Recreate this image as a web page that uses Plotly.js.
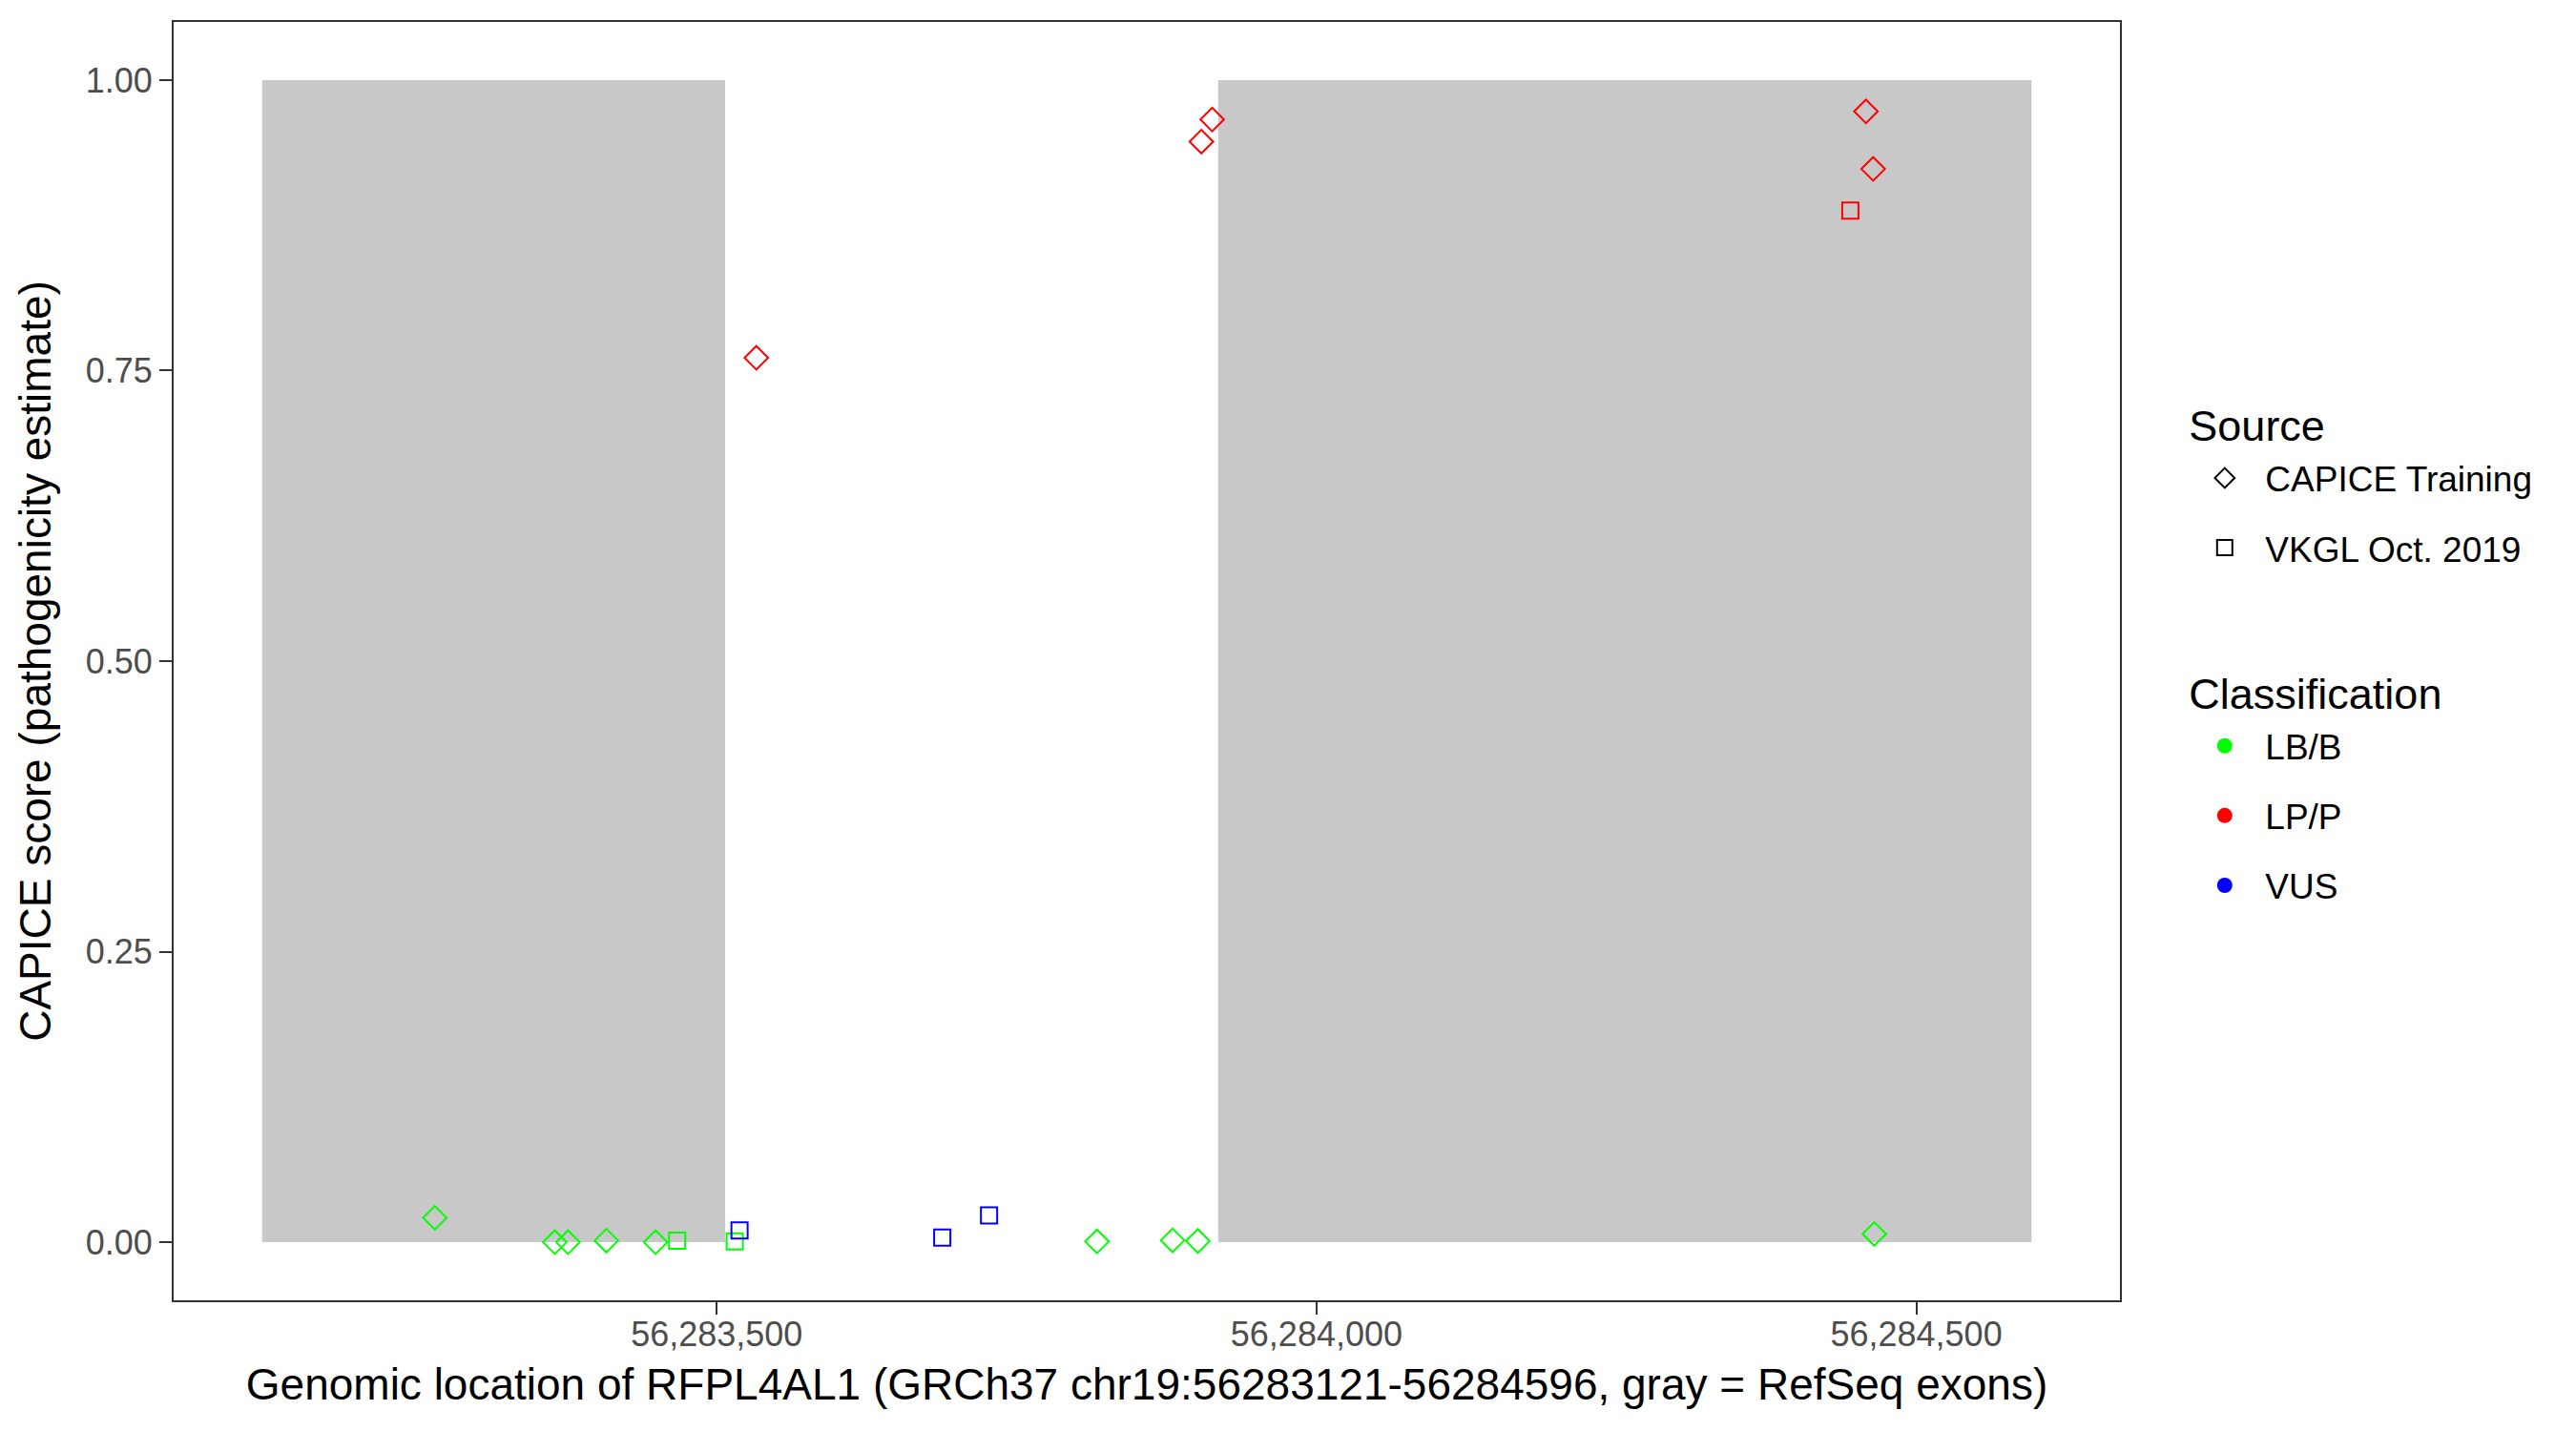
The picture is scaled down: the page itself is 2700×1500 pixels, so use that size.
<!DOCTYPE html>
<html>
<head>
<meta charset="utf-8">
<script src="https://cdn.plot.ly/plotly-3.0.1.min.js"></script>
<style>html,body{margin:0;padding:0;background:#fff;}#chart{width:2700px;height:1500px;}</style>
</head>
<body>
<div id="chart"></div>
<script>
// Exons (RefSeq) on GRCh37 chr19
const exonStart = [56283121, 56283918];
const exonEnd   = [56283507, 56284596];

// LB/B - CAPICE Training
const lbbCapiceX = [56283265, 56283365, 56283376, 56283408, 56283449, 56283817, 56283880, 56283901, 56284465];
const lbbCapiceY = [0.021, 0.000, 0.000, 0.0014, 0.000, 0.0006, 0.0016, 0.001, 0.0071];
// LB/B - VKGL Oct. 2019
const lbbVkglX = [56283467, 56283515];
const lbbVkglY = [0.0014, 0.0006];
// VUS - VKGL Oct. 2019
const vusVkglX = [56283519, 56283688, 56283727];
const vusVkglY = [0.0101, 0.0039, 0.023];
// LP/P - CAPICE Training
const lppCapiceX = [56283533, 56283904, 56283913, 56284458, 56284464];
const lppCapiceY = [0.761, 0.947, 0.966, 0.973, 0.9235];
// LP/P - VKGL Oct. 2019
const lppVkglX = [56284445];
const lppVkglY = [0.8876];

const xTickVals = [56283500, 56284000, 56284500];
const xTickText = ["56,283,500", "56,284,000", "56,284,500"];
const yTickVals = [0, 0.25, 0.5, 0.75, 1.0];
const yTickText = ["0.00", "0.25", "0.50", "0.75", "1.00"];

const sourceNames = ["CAPICE Training", "VKGL Oct. 2019"];
const classNames = ["LB/B", "LP/P", "VUS"];

const geneStart = 56283121, geneEnd = 56284596;

const GREEN = "#00FF00", RED = "#FF0000", BLUE = "#0000FF";
const FONT = "Liberation Sans, Arial, sans-serif";
const DIA = 19, SQ = 17, LW = 2;
const GT = {family: FONT, size: 45, color: "#000"};

function pts(x, y, color, symbol, size) {
  return {
    type: "scatter", mode: "markers", x: x, y: y, showlegend: false, hoverinfo: "x+y",
    marker: {symbol: symbol, size: size, color: color, line: {color: color, width: LW}}
  };
}

const traces = [
  pts(lbbCapiceX, lbbCapiceY, GREEN, "diamond-open", DIA),
  pts(lbbVkglX, lbbVkglY, GREEN, "square-open", SQ),
  pts(vusVkglX, vusVkglY, BLUE, "square-open", SQ),
  pts(lppCapiceX, lppCapiceY, RED, "diamond-open", DIA),
  pts(lppVkglX, lppVkglY, RED, "square-open", SQ),
  // legend entries
  {type: "scatter", mode: "markers", x: [null], y: [null], name: sourceNames[0],
   legendgroup: "s1", legendgrouptitle: {text: "Source", font: GT},
   marker: {symbol: "diamond-open", size: 19, color: "#000", line: {color: "#000", width: LW}}},
  {type: "scatter", mode: "markers", x: [null], y: [null], name: sourceNames[1],
   legendgroup: "s2",
   marker: {symbol: "square-open", size: 18, color: "#000", line: {color: "#000", width: LW}}},
  {type: "scatter", mode: "none", x: [null], y: [null], name: " ", legendgroup: "sp"},
  {type: "scatter", mode: "markers", x: [null], y: [null], name: classNames[0],
   legendgroup: "c1", legendgrouptitle: {text: "Classification", font: GT},
   marker: {symbol: "circle", size: 19, color: GREEN}},
  {type: "scatter", mode: "markers", x: [null], y: [null], name: classNames[1],
   legendgroup: "c2", marker: {symbol: "circle", size: 19, color: RED}},
  {type: "scatter", mode: "markers", x: [null], y: [null], name: classNames[2],
   legendgroup: "c3", marker: {symbol: "circle", size: 19, color: BLUE}}
];

const pad = (geneEnd - geneStart) * 0.05;
const shapes = exonStart.map((s, i) => ({
  type: "rect", xref: "x", yref: "y", x0: s, x1: exonEnd[i], y0: 0, y1: 1,
  fillcolor: "#C8C8C8", line: {width: 0}, layer: "below"
}));

const layout = {
  width: 2700, height: 1500,
  paper_bgcolor: "#fff", plot_bgcolor: "#fff",
  margin: {l: 182, r: 478, t: 23, b: 137},
  font: {family: FONT, color: "#000"},
  shapes: shapes,
  xaxis: {
    range: [geneStart - pad, geneEnd + pad],
    tickvals: xTickVals, ticktext: xTickText,
    tickfont: {family: FONT, size: 36, color: "#4D4D4D"},
    ticks: "outside", ticklen: 13, tickwidth: 2, tickcolor: "#333333",
    ticklabelstandoff: -10,
    showgrid: false, zeroline: false,
    showline: true, mirror: true, linecolor: "#333333", linewidth: 2,
    automargin: false,
    title: {text: "Genomic location of RFPL4AL1 (GRCh37 chr19:56283121-56284596, gray = RefSeq exons)",
            font: {family: FONT, size: 46, color: "#000"}, standoff: 17}
  },
  yaxis: {
    range: [-0.05, 1.05],
    tickvals: yTickVals, ticktext: yTickText,
    tickfont: {family: FONT, size: 36, color: "#4D4D4D"},
    ticks: "outside", ticklen: 13, tickwidth: 2, tickcolor: "#333333",
    showgrid: false, zeroline: false,
    showline: true, mirror: true, linecolor: "#333333", linewidth: 2,
    automargin: false,
    title: {text: "CAPICE score (pathogenicity estimate)", font: {family: FONT, size: 46, color: "#000"}, standoff: 22}
  },
  legend: {
    x: 1.033, xanchor: "left", y: 0.712, yanchor: "top",
    font: {family: FONT, size: 37, color: "#000"},
    itemwidth: 75, itemsizing: "trace",
    tracegroupgap: 22, bgcolor: "rgba(0,0,0,0)", itemclick: false
  },
  showlegend: true
};

Plotly.newPlot("chart", traces, layout, {displayModeBar: false, staticPlot: true});
</script>
</body>
</html>
